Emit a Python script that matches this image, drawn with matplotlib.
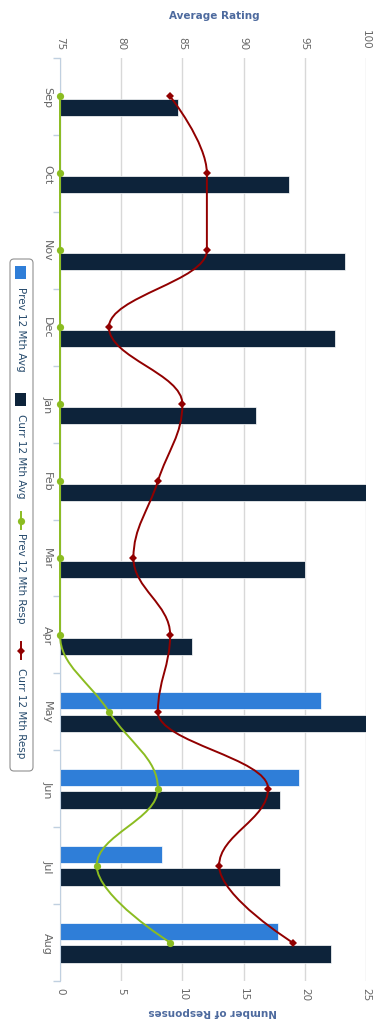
import numpy as np
import matplotlib
matplotlib.use("Agg")
import matplotlib.pyplot as plt
from matplotlib.path import Path
from matplotlib.patches import PathPatch, FancyBboxPatch, Rectangle

# ---- data ----
months = ['Sep', 'Oct', 'Nov', 'Dec', 'Jan', 'Feb', 'Mar', 'Apr', 'May', 'Jun', 'Jul', 'Aug']
prev_avg = [np.nan] * 8 + [96.3, 94.5, 83.3, 92.8]
curr_avg = [84.6, 93.7, 98.3, 97.5, 91.0, 100.0, 95.0, 85.8, 100.0, 93.0, 93.0, 97.1]
prev_resp = [0, 0, 0, 0, 0, 0, 0, 0, 4, 8, 3, 9]
curr_resp = [9, 12, 12, 4, 10, 8, 6, 9, 8, 17, 13, 19]
rating_ticks = [75, 80, 85, 90, 95, 100]
resp_ticks = [0, 5, 10, 15, 20, 25]

C_PREV_AVG = '#2f7ed8'
C_CURR_AVG = '#0d233a'
C_PREV_RESP = '#8bbc21'
C_CURR_RESP = '#910000'
C_LABEL = '#666666'
C_TITLE = '#4d6a9e'
C_LEGEND = '#274b6d'

W, H = 374, 1020
fig = plt.figure(figsize=(W / 100, H / 100), dpi=100)
fig.patch.set_facecolor('white')


def spline_path(cats, vals, smoothing=1.5):
    """Smooth cubic path through points (value on x, category on y)."""
    n = len(cats)
    denom = smoothing + 1
    left = [None] * n
    right = [None] * n
    for i in range(1, n - 1):
        lx, ly = cats[i - 1], vals[i - 1]
        nx, ny = cats[i + 1], vals[i + 1]
        px, py = cats[i], vals[i]
        lcx = (smoothing * px + lx) / denom
        lcy = (smoothing * py + ly) / denom
        rcx = (smoothing * px + nx) / denom
        rcy = (smoothing * py + ny) / denom
        if rcx != lcx:
            corr = ((rcy - lcy) * (rcx - px)) / (rcx - lcx) + py - rcy
            lcy += corr
            rcy += corr
        if lcy > ly and lcy > py:
            lcy = max(ly, py); rcy = 2 * py - lcy
        elif lcy < ly and lcy < py:
            lcy = min(ly, py); rcy = 2 * py - lcy
        if rcy > ny and rcy > py:
            rcy = max(ny, py); lcy = 2 * py - rcy
        elif rcy < ny and rcy < py:
            rcy = min(ny, py); lcy = 2 * py - rcy
        left[i] = (lcx, lcy)
        right[i] = (rcx, rcy)
    verts = [(vals[0], cats[0])]
    codes = [Path.MOVETO]
    for i in range(1, n):
        c1 = right[i - 1] if right[i - 1] is not None else (cats[i - 1], vals[i - 1])
        c2 = left[i] if left[i] is not None else (cats[i], vals[i])
        verts += [(c1[1], c1[0]), (c2[1], c2[0]), (vals[i], cats[i])]
        codes += [Path.CURVE4] * 3
    return Path(verts, codes)


# ---- plot area ----
left_px, right_px, top_px, bottom_px = 60, 366, 59, 982
ax = fig.add_axes([left_px / W, 1 - bottom_px / H,
                   (right_px - left_px) / W, (bottom_px - top_px) / H])
ax.set_facecolor('white')
ypos = np.arange(len(months))

# bars: average ratings (top axis)
ax.set_xlim(rating_ticks[0], rating_ticks[-1])
ax.set_ylim(len(months) - 0.5, -0.5)
pa = np.array(prev_avg, dtype=float)
ca = np.array(curr_avg, dtype=float)
m = ~np.isnan(pa)
ax.barh(ypos[m] - 0.148, pa[m] - rating_ticks[0], left=rating_ticks[0], height=0.225,
        color=C_PREV_AVG, edgecolor='white', linewidth=0.5, zorder=2)
ax.barh(ypos + 0.148, ca - rating_ticks[0], left=rating_ticks[0], height=0.225,
        color=C_CURR_AVG, edgecolor='white', linewidth=0.5, zorder=2)
ax.grid(axis='x', color='#d8d8d8', linewidth=1)
ax.set_axisbelow(True)

ax.set_yticks(ypos)
ax.set_yticklabels(months, rotation=-90, va='center', ha='right')
ax.set_yticks(np.arange(-0.5, len(months), 1), minor=True)
ax.tick_params(axis='y', which='major', length=0, pad=5.5, labelsize=8, labelcolor=C_LABEL)
ax.tick_params(axis='y', which='minor', length=5, width=1, color='#c0d0e0')
for s in ['top', 'right', 'bottom']:
    ax.spines[s].set_visible(False)
ax.spines['left'].set_color('#c0d0e0')

# lines: response counts (bottom axis)
ax2 = ax.twiny()
ax2.set_xlim(resp_ticks[0], resp_ticks[-1])
ax2.xaxis.tick_bottom()
ax2.set_xticks(resp_ticks)
ax2.set_xticklabels([str(t) for t in resp_ticks])
ax2.tick_params(axis='x', length=0, pad=4.5, labelsize=7.5, labelcolor=C_LABEL,
                labelrotation=-90)
for s in ax2.spines.values():
    s.set_visible(False)

# rating ticks go on top (set after twinning, which resets them)
ax.xaxis.tick_top()
ax.set_xticks(rating_ticks)
ax.set_xticklabels([str(t) for t in rating_ticks])
ax.tick_params(axis='x', length=0, pad=6.5, labelsize=7.5, labelcolor=C_LABEL,
               labelrotation=-90)

for vals, col, mk, ms in [(prev_resp, C_PREV_RESP, 'o', 5.2),
                          (curr_resp, C_CURR_RESP, 'D', 4.2)]:
    p = spline_path(list(ypos.astype(float)), [float(v) for v in vals])
    ax2.add_patch(PathPatch(p, fill=False, edgecolor=col, linewidth=1.4,
                            clip_on=False, zorder=3))
    ax2.plot(vals, ypos, linestyle='none', marker=mk, markersize=ms, color=col,
             markeredgewidth=0, clip_on=False, zorder=4)

# axis titles
fig.text(214 / W, 1 - 16 / H, 'Average Rating', ha='center', va='center',
         fontsize=7.5, fontweight='bold', color=C_TITLE)
fig.text(213 / W, 1 - 1012 / H, 'Number of Responses', ha='center', va='center',
         rotation=180, fontsize=7.5, fontweight='bold', color=C_TITLE)

# ---- legend ----
lg = fig.add_axes([0, 0, 1, 1])
lg.set_xlim(0, W)
lg.set_ylim(H, 0)
lg.axis('off')
lg.patch.set_visible(False)
lg.add_patch(FancyBboxPatch((10, 260), 23, 512,
                            boxstyle='round,pad=0,rounding_size=4',
                            facecolor='white', edgecolor='#909090', linewidth=0.8))
cx = 21
lg.add_patch(Rectangle((15.5, 267), 11, 13, facecolor=C_PREV_AVG, edgecolor='none'))
lg.text(cx, 287, 'Prev 12 Mth Avg', rotation=-90, ha='center', va='top',
        fontsize=7.5, color=C_LEGEND)
lg.add_patch(Rectangle((15.5, 394), 11, 13, facecolor=C_CURR_AVG, edgecolor='none'))
lg.text(cx, 414, 'Curr 12 Mth Avg', rotation=-90, ha='center', va='top',
        fontsize=7.5, color=C_LEGEND)
lg.plot([cx, cx], [513, 530], color=C_PREV_RESP, linewidth=1.4)
lg.plot([cx], [521.5], marker='o', markersize=5.2, color=C_PREV_RESP, markeredgewidth=0)
lg.text(cx, 533, 'Prev 12 Mth Resp', rotation=-90, ha='center', va='top',
        fontsize=7.5, color=C_LEGEND)
lg.plot([cx, cx], [643, 660], color=C_CURR_RESP, linewidth=1.4)
lg.plot([cx], [651.5], marker='D', markersize=4.2, color=C_CURR_RESP, markeredgewidth=0)
lg.text(cx, 668, 'Curr 12 Mth Resp', rotation=-90, ha='center', va='top',
        fontsize=7.5, color=C_LEGEND)

fig.savefig('out.png', dpi=100)
